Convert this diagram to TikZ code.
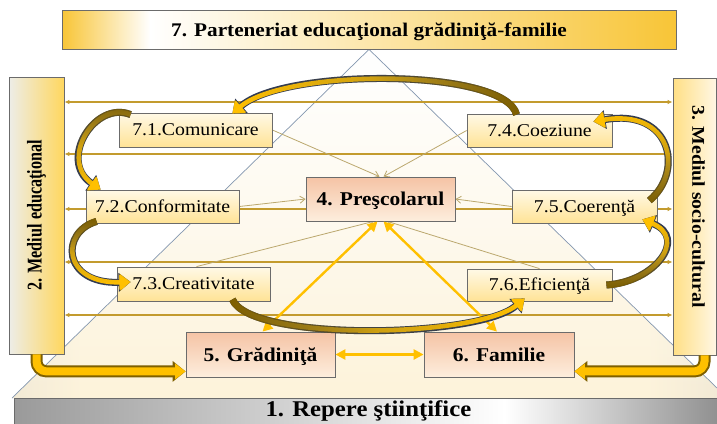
\documentclass[tikz,border=0pt]{standalone}
\usepackage{fontspec}
\setmainfont{Liberation Serif}[FakeStretch=1.1]
\usetikzlibrary{arrows.meta,calc,fadings}
\definecolor{cGold}{HTML}{FFC000}
\definecolor{cDkGold}{HTML}{7F6000}
\definecolor{cNavy}{HTML}{2F3A56}
\definecolor{cHLine}{HTML}{C39B2E}
\definecolor{cKhaki}{HTML}{BBA86E}
\definecolor{cPyr}{HTML}{8497B0}
\definecolor{cBoxLine}{HTML}{6B6B6B}
\definecolor{cSubTop}{HTML}{FFF9E6}
\definecolor{cSubBot}{HTML}{FFE396}
\definecolor{cMainTop}{HTML}{F5C3A5}
\definecolor{cMainBot}{HTML}{FDEEDD}
\definecolor{cCream}{HTML}{FDF3DA}
\definecolor{cCorner}{HTML}{C2C2C2}
\definecolor{cBanner}{HTML}{F8C537}
\definecolor{cBaseL}{HTML}{9A9A9A}
\definecolor{cBaseR}{HTML}{8E8E8E}
\definecolor{cSideLa}{HTML}{EDEDE8}
\definecolor{cSideLb}{HTML}{FFD75E}
\definecolor{cSideRa}{HTML}{FFDF85}
\definecolor{cSideRb}{HTML}{FFF7E4}

\pgfdeclarehorizontalshading{triH}{100bp}{color(0bp)=(cCorner); color(8bp)=(cCorner!80!cCream); color(30bp)=(cCream); color(70bp)=(cCream); color(92bp)=(cCorner!80!cCream); color(100bp)=(cCorner)}

\tikzfading[name=goldL, left color=transparent!0, right color=transparent!100, middle color=transparent!25]
\tikzfading[name=goldR, left color=transparent!100, right color=transparent!0, middle color=transparent!25]
\tikzfading[name=goldT, top color=transparent!0, bottom color=transparent!100, middle color=transparent!25]
\tikzfading[name=goldB, top color=transparent!100, bottom color=transparent!0, middle color=transparent!25]
\tikzfading[name=brL, left color=transparent!0, right color=transparent!100, middle color=transparent!80]
\tikzfading[name=brR, left color=transparent!100, right color=transparent!0, middle color=transparent!80]
\tikzfading[name=brT, top color=transparent!0, bottom color=transparent!100, middle color=transparent!80]
\tikzfading[name=brB, top color=transparent!100, bottom color=transparent!0, middle color=transparent!80]
\tikzfading[name=whiteTop, top color=transparent!0, bottom color=transparent!100, middle color=transparent!45]

\pgfdeclarelayer{bgg}
\pgfdeclarelayer{bg}
\pgfsetlayers{bgg,bg,main}

\newcommand{\bandarrow}[3]{%
  \draw[line width=7pt, cNavy, -{Triangle[length=12pt,width=19pt,fill=cGold,line width=0.7pt]}] #1;
  \draw[line width=7pt, cDkGold, shorten >=12pt, path fading=#3] #1;
  \draw[line width=4.6pt, cGold, path fading=#2, -{Triangle[length=10.5pt,width=16pt]}] #1;
}

\begin{document}
\begin{tikzpicture}[x=1pt,y=-1pt,
  subbox/.style={draw=cBoxLine, line width=0.8pt, top color=cSubTop, bottom color=cSubBot,
    inner sep=0pt, minimum height=33pt, text height=11.9pt, text depth=0pt,
    font=\fontsize{18}{21}\selectfont},
  mainbox/.style={draw=cBoxLine, line width=0.8pt, top color=cMainTop, bottom color=cMainBot,
    inner sep=0pt, minimum width=149pt, minimum height=45pt, text height=13.2pt, text depth=0pt,
    font=\bfseries\fontsize{19.5}{22}\selectfont},
  hl/.style={draw=cHLine, line width=1.1pt, {Latex[length=5pt,width=4.5pt]}-{Latex[length=5pt,width=4.5pt]}},
  thinarr/.style={draw=cKhaki, line width=0.8pt, -{Straight Barb[length=5pt,width=7pt]}},
  goldarrow/.style={draw=cGold, line width=2.4pt, {Triangle[length=10pt,width=10pt]}-{Triangle[length=10pt,width=10pt]}},
  pyrline/.style={draw=cPyr, line width=0.7pt},
  sidebox/.style={draw=cBoxLine, line width=0.8pt, inner sep=0pt, minimum height=277pt},
]
\useasboundingbox (0,0) rectangle (717,423);

% base bar
\shade[left color=cBaseL, right color=white] (14,398) rectangle (505,426);
\shade[left color=white, right color=cBaseR] (505,398) rectangle (722,426);
\node[draw=cBoxLine, line width=0.8pt, anchor=north west, minimum width=708pt, minimum height=28pt,
  inner sep=0pt, font=\bfseries\fontsize{22.5}{25}\selectfont, text height=15.2pt, text depth=8pt]
  (base) at (14,398) {1. Repere ştiinţifice};

% banner
\shade[left color=cBanner, right color=white] (62,10) rectangle (150,49);
\shade[left color=white, right color=cBanner] (150,10) rectangle (676,49);
\node[draw=cBoxLine, line width=0.8pt, minimum width=614pt, minimum height=39pt, inner sep=0pt,
  font=\bfseries\fontsize{19.3}{22}\selectfont, text height=13pt, text depth=0pt]
  (banner) at (369,29.5) {7. Parteneriat educaţional grădiniţă-familie};

% side boxes
\node[sidebox, minimum width=55pt, left color=cSideLa, right color=cSideLb] (L) at (36.5,215.5)
  {\rotatebox{90}{\scalebox{0.7}[1]{\bfseries\fontsize{21}{23}\selectfont 2. Mediul educaţional}}};
\node[sidebox, minimum width=43pt, left color=cSideRa, right color=cSideRb] (R) at (694.5,216.5)
  {\hspace*{8pt}\rotatebox{-90}{\bfseries\fontsize{18}{21}\selectfont 3. Mediul socio-cultural\hspace{20pt}}};

% sub nodes
\node[subbox, minimum width=153pt, minimum height=34pt] (n71) at (195.5,130) {7.1.Comunicare};
\node[subbox, minimum width=153pt] (n72) at (162.5,206.5) {7.2.Conformitate};
\node[subbox, minimum width=153pt, minimum height=34pt] (n73) at (193.5,284) {7.3.Creativitate};
\node[subbox, minimum width=145pt] (n74) at (539.5,130.5) {7.4.Coeziune};
\node[subbox, minimum width=145pt] (n75) at (584.5,206.5) {7.5.Coerenţă};
\node[subbox, minimum width=145pt, minimum height=32pt] (n76) at (539.5,285) {7.6.Eficienţă};
% main nodes
\node[mainbox, minimum height=44pt] (n4) at (380.5,199) {4. Preşcolarul};
\node[mainbox] (n5) at (260.5,354.5) {5. Grădiniţă};
\node[mainbox, minimum width=150pt] (n6) at (499,354.5) {6. Familie};

% pyramid fill
\begin{pgfonlayer}{bgg}
  \shade[shading=triH]
    (banner.south) -- (12,398) -- (717,398) -- (717,388) -- cycle;
  \fill[white, path fading=whiteTop]
    (banner.south) -- (12,398) -- (717,398) -- (717,388) -- cycle;
\end{pgfonlayer}

\begin{pgfonlayer}{bg}
  \draw[pyrline] (12,398) -- (banner.south) -- (717,388);
  \foreach \yy in {102,154,209,262,315}
    \draw[hl] (L.east |- 0,\yy) -- (R.west |- 0,\yy);
  \draw[thinarr] (n71.east) -- ($(n4.north)+(-1,0)$);
  \draw[thinarr] (n74.west) -- ($(n4.north)+(3,0)$);
  \draw[thinarr] (n72.east) -- (n4.west);
  \draw[thinarr] (n75.west) -- (n4.east);
  \draw[thinarr] ($(n73.north)+(3,0)$) -- ($(n4.south)+(-7,0)$);
  \draw[thinarr] (n76.north) -- ($(n4.south)+(7,0)$);
\end{pgfonlayer}

% gold double arrows
\draw[goldarrow] ($(n4.south)+(-3,0)$) -- ($(n5.north)+(2,0)$);
\draw[goldarrow] ($(n4.south)+(3,0)$) -- ($(n6.north)+(-2,0)$);
\draw[goldarrow] (n5.east) -- (n6.west);

% bent band arrows from side boxes
\draw[line width=12pt, cDkGold, rounded corners=10pt, -{Triangle[length=13pt,width=20pt]}]
  (L.south) |- ($(n5.south west)+(0,-6)$);
\draw[line width=8pt, cGold, rounded corners=10pt, -{Triangle[length=10.5pt,width=15pt]}]
  (L.south) |- ($(n5.south west)+(0,-6)$);
\draw[line width=12pt, cDkGold, rounded corners=10pt, -{Triangle[length=13pt,width=20pt]}]
  ($(R.south)+(10,0)$) |- ($(n6.south east)+(0,-6)$);
\draw[line width=8pt, cGold, rounded corners=10pt, -{Triangle[length=10.5pt,width=15pt]}]
  ($(R.south)+(10,0)$) |- ($(n6.south east)+(0,-6)$);

% curved band arrows
\bandarrow{($(n74.north west)+(50,1)$) .. controls (505,68) and (285,68) .. ($(n71.north east)+(-40,1)$)}{goldL}{brR}
\bandarrow{($(n71.north west)+(12,2)$) .. controls (95,100) and (58,160) .. ($(n72.north west)+(15,0)$)}{goldB}{brT}
\bandarrow{($(n72.south west)+(11,-2)$) .. controls (60,232) and (62,284) .. ($(n73.west)+(14,-2)$)}{goldB}{brT}
\bandarrow{($(n73.south east)+(-38,-2)$) .. controls (250,342) and (478,338) .. ($(n76.south west)+(58,-3)$)}{goldR}{brL}
\bandarrow{($(n76.east)+(-6,0)$) .. controls (655,282) and (688,238) .. ($(n75.south east)+(-15,-4)$)}{goldT}{brB}
\bandarrow{($(n75.east)+(-8,-6)$) .. controls (684,172) and (672,108) .. ($(n74.north east)+(-19,8)$)}{goldT}{brB}
\end{tikzpicture}
\end{document}
